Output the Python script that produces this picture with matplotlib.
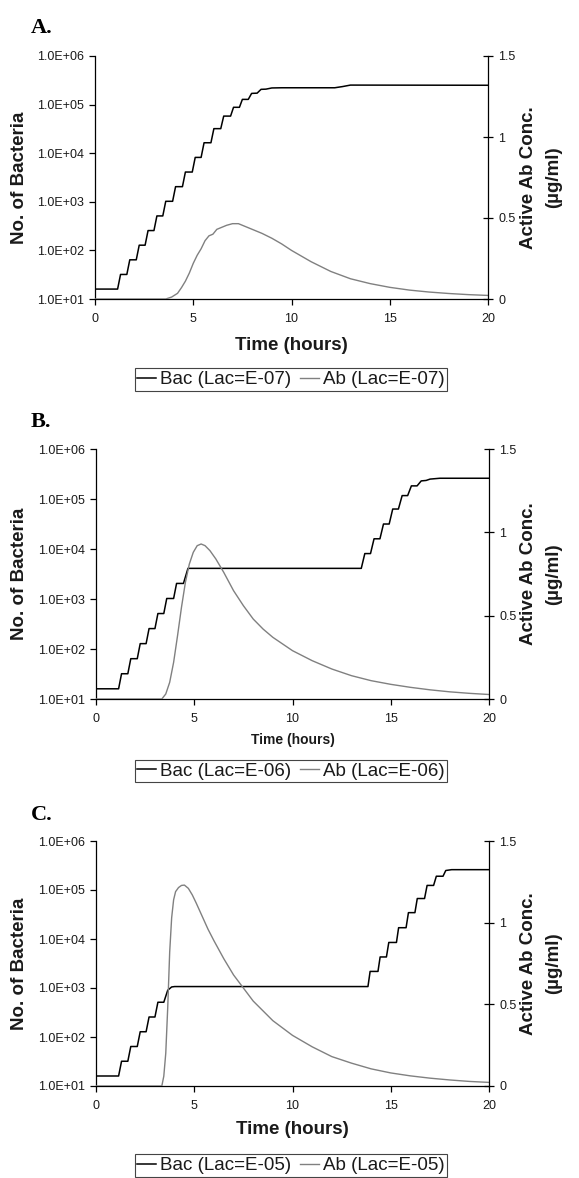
import matplotlib
matplotlib.use('Agg')
import matplotlib.pyplot as plt
from matplotlib.ticker import FixedLocator, FixedFormatter, NullLocator

plt.rcParams['font.family'] = ['Liberation Sans', 'DejaVu Sans']

# ---------------- data ----------------
bac_ticks = [1e1, 1e2, 1e3, 1e4, 1e5, 1e6]
bac_ticklabels = ['1.0E+01', '1.0E+02', '1.0E+03', '1.0E+04', '1.0E+05', '1.0E+06']
ab_ticks = [0, 0.5, 1, 1.5]
ab_ticklabels = ['0', '0.5', '1', '1.5']
time_ticks = [0, 5, 10, 15, 20]
time_ticklabels = ['0', '5', '10', '15', '20']

panel_letters = ['A.', 'B.', 'C.']
lac_labels = ['E-07', 'E-06', 'E-05']

# Panel A
bacA_t = [0, 1.15, 1.30, 1.62, 1.77, 2.10, 2.25, 2.55, 2.70, 3.00, 3.15, 3.45, 3.60,
          3.95, 4.10, 4.45, 4.60, 4.95, 5.10, 5.40, 5.55, 5.90, 6.05, 6.40, 6.55,
          6.90, 7.05, 7.35, 7.50, 7.80, 7.97, 8.25, 8.45, 8.70, 9.00, 9.50, 12.2,
          12.6, 13.0, 20.0]
bacA_v = [16, 16, 32, 32, 64, 64, 128, 128, 256, 256, 512, 512, 1024,
          1024, 2048, 2048, 4096, 4096, 8192, 8192, 16400, 16400, 32000, 32000, 58000,
          58000, 88000, 88000, 128000, 128000, 170000, 172000, 206000, 208000, 220000, 222000, 222000,
          235000, 252000, 250000]
abA_t = [0, 3.6, 3.9, 4.2, 4.4, 4.6, 4.8, 5.0, 5.2, 5.4, 5.6, 5.8, 6.0, 6.2, 6.4,
         6.7, 7.0, 7.3, 7.6, 8.0, 8.5, 9.0, 9.5, 10.0, 10.5, 11.0, 12.0, 13.0, 14.0,
         15.0, 16.0, 17.0, 18.0, 19.0, 20.0]
abA_v = [0, 0, 0.012, 0.035, 0.07, 0.11, 0.16, 0.22, 0.27, 0.31, 0.36, 0.39, 0.40, 0.43, 0.44,
         0.455, 0.465, 0.465, 0.45, 0.43, 0.405, 0.375, 0.34, 0.30, 0.265, 0.23, 0.17, 0.125, 0.095,
         0.072, 0.055, 0.043, 0.034, 0.027, 0.022]

# Panel B
bacB_t = [0, 1.15, 1.30, 1.62, 1.77, 2.10, 2.25, 2.55, 2.70, 3.00, 3.15, 3.45, 3.60,
          3.95, 4.10, 4.45, 4.68, 13.50, 13.68, 13.97, 14.15, 14.45, 14.63, 14.92,
          15.10, 15.39, 15.58, 15.86, 16.05, 16.34, 16.55, 16.80, 17.00, 17.50, 20.0]
bacB_v = [16, 16, 32, 32, 64, 64, 128, 128, 256, 256, 512, 512, 1024,
          1024, 2048, 2048, 4100, 4100, 8100, 8100, 16000, 16000, 31600, 31600,
          63000, 63000, 117000, 117000, 183000, 183000, 230000, 235000, 250000, 260000, 260000]
abB_t = [0, 3.35, 3.55, 3.75, 3.95, 4.15, 4.35, 4.55, 4.75, 4.95, 5.15, 5.35, 5.55,
         5.8, 6.1, 6.5, 7.0, 7.5, 8.0, 8.5, 9.0, 10.0, 11.0, 12.0, 13.0, 14.0, 15.0,
         16.0, 17.0, 18.0, 19.0, 20.0]
abB_v = [0, 0, 0.03, 0.10, 0.22, 0.38, 0.55, 0.70, 0.81, 0.88, 0.92, 0.93, 0.92,
         0.89, 0.84, 0.76, 0.65, 0.56, 0.48, 0.42, 0.37, 0.29, 0.23, 0.18, 0.14, 0.11, 0.088,
         0.07, 0.055, 0.043, 0.034, 0.027]

# Panel C
bacC_t = [0, 1.15, 1.30, 1.62, 1.77, 2.10, 2.25, 2.55, 2.70, 3.00, 3.15, 3.45, 3.65,
          3.85, 4.00, 13.84, 13.95, 14.35, 14.46, 14.78, 14.90, 15.29, 15.40, 15.78,
          15.90, 16.23, 16.35, 16.72, 16.85, 17.18, 17.32, 17.66, 17.80, 18.10, 20.0]
bacC_v = [16, 16, 32, 32, 64, 64, 128, 128, 256, 256, 512, 512, 900,
          1050, 1070, 1070, 2180, 2180, 4300, 4300, 8500, 8500, 17000, 17000,
          34500, 34500, 67000, 67000, 124000, 124000, 191000, 191000, 250000, 260000, 260000]
abC_t = [0, 3.35, 3.45, 3.55, 3.65, 3.75, 3.85, 3.95, 4.05, 4.2, 4.35, 4.5, 4.7, 4.9,
         5.1, 5.4, 5.7, 6.0, 6.5, 7.0, 7.5, 8.0, 8.5, 9.0, 10.0, 11.0, 12.0, 13.0, 14.0,
         15.0, 16.0, 17.0, 18.0, 19.0, 20.0]
abC_v = [0, 0, 0.06, 0.2, 0.48, 0.82, 1.03, 1.14, 1.19, 1.215, 1.228, 1.23, 1.21, 1.17,
         1.12, 1.04, 0.96, 0.89, 0.78, 0.68, 0.60, 0.52, 0.46, 0.40, 0.31, 0.24, 0.18, 0.14, 0.105,
         0.08, 0.062, 0.048, 0.037, 0.028, 0.022]

bac_series = [(bacA_t, bacA_v), (bacB_t, bacB_v), (bacC_t, bacC_v)]
ab_series = [(abA_t, abA_v), (abB_t, abB_v), (abC_t, abC_v)]

# ---------------- layout (pixels) ----------------
W, H = 579, 1178
fig = plt.figure(figsize=(W / 100, H / 100), dpi=100)


def fx(px):
    return px / W


def fy(py):
    return 1 - py / H


layout = [
    # left, right, top, bottom, letter baseline y, xlabel y, xlabel size, legend y
    dict(l=95, r=488, t=56, b=299, ly=33, xly=345, xls=13.5, lgy=379.5),
    dict(l=96, r=489, t=449, b=699, ly=427, xly=740, xls=10, lgy=771),
    dict(l=96, r=489, t=841, b=1086, ly=820, xly=1130, xls=13.5, lgy=1165.5),
]

txt_col = '#1a1a1a'

for i, L in enumerate(layout):
    ax = fig.add_axes([fx(L['l']), fy(L['b']), fx(L['r'] - L['l']), (L['b'] - L['t']) / H])
    ax2 = ax.twinx()

    bt, bv = bac_series[i]
    at, av = ab_series[i]
    h1, = ax.plot(bt, bv, color='#000000', lw=1.1, label='Bac (Lac=%s)' % lac_labels[i])
    h2, = ax2.plot(at, av, color='#808080', lw=1.0, label='Ab (Lac=%s)' % lac_labels[i])

    ax.set_yscale('log')
    ax.set_ylim(1e1, 1e6)
    ax.set_xlim(0, 20)
    ax2.set_ylim(0, 1.5)

    ax.yaxis.set_major_locator(FixedLocator(bac_ticks))
    ax.yaxis.set_major_formatter(FixedFormatter(bac_ticklabels))
    ax.yaxis.set_minor_locator(NullLocator())
    ax.xaxis.set_major_locator(FixedLocator(time_ticks))
    ax.xaxis.set_major_formatter(FixedFormatter(time_ticklabels))
    ax2.yaxis.set_major_locator(FixedLocator(ab_ticks))
    ax2.yaxis.set_major_formatter(FixedFormatter(ab_ticklabels))

    for s in ['top', 'right']:
        ax.spines[s].set_visible(False)
    for s in ['top', 'left', 'bottom']:
        ax2.spines[s].set_visible(False)
    for sp in [ax.spines['left'], ax.spines['bottom'], ax2.spines['right']]:
        sp.set_linewidth(0.9)
        sp.set_color('#000000')

    ax.tick_params(axis='y', direction='out', length=4, width=0.9, pad=4,
                   labelsize=9, labelcolor=txt_col)
    ax.tick_params(axis='x', direction='out', length=4, width=0.9, pad=6,
                   labelsize=9, labelcolor=txt_col)
    ax2.tick_params(axis='y', direction='inout', length=7, width=0.9, pad=4,
                    labelsize=9, labelcolor=txt_col)

    # panel letter
    fig.text(fx(31), fy(L['ly']), panel_letters[i], fontfamily=['Liberation Serif', 'DejaVu Serif'],
             fontweight='bold', fontsize=16, va='baseline', ha='left', color='#000000')

    cy = (L['t'] + L['b']) / 2
    cx = (L['l'] + L['r']) / 2
    # axis labels
    fig.text(fx(cx), fy(L['xly']), 'Time (hours)', fontweight='bold', fontsize=L['xls'],
             ha='center', va='center', color=txt_col)
    fig.text(fx(19), fy(cy), 'No. of Bacteria', fontweight='bold', fontsize=13.5,
             rotation=90, ha='center', va='center', color=txt_col)
    fig.text(fx(541), fy(cy), 'Active Ab Conc.\n(\u00b5g/ml)', fontweight='bold', fontsize=13.5,
             rotation=90, ha='center', va='center', multialignment='center',
             linespacing=1.6, color=txt_col)

    leg = fig.legend([h1, h2], [h1.get_label(), h2.get_label()], loc='center',
                     bbox_to_anchor=(fx(291), fy(L['lgy'])), ncol=2, frameon=True,
                     fancybox=False, edgecolor='#444444', fontsize=13.5, handlelength=1.0,
                     handletextpad=0.2, columnspacing=0.5, borderpad=0.15, borderaxespad=0,
                     framealpha=1)
    leg.get_frame().set_linewidth(0.8)
    for t in leg.get_texts():
        t.set_color(txt_col)

fig.savefig('out.png', dpi=100)
